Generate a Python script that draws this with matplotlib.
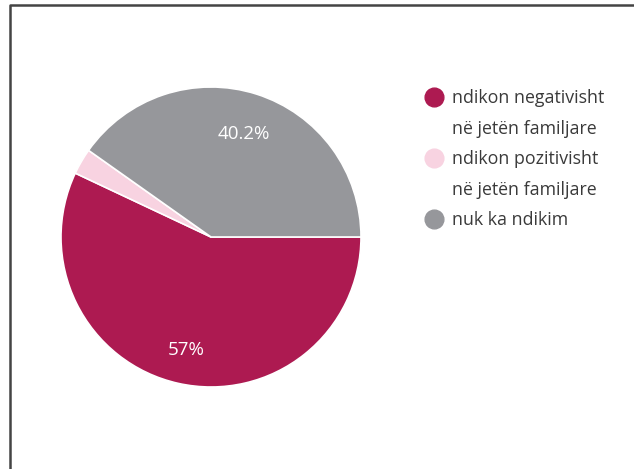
import matplotlib
matplotlib.use("Agg")
import matplotlib.pyplot as plt
from matplotlib.lines import Line2D
import numpy as np

categories = ["ndikon negativisht\nnë jetën familjare",
              "ndikon pozitivisht\nnë jetën familjare",
              "nuk ka ndikim"]
values = [57.0, 2.8, 40.2]
pct_labels = ["57%", "", "40.2%"]
colors = ["#AD1A51", "#F8D3E1", "#96979B"]

plt.rcParams['font.family'] = ['Open Sans', 'DejaVu Sans']

W, H = 634, 469
fig = plt.figure(figsize=(W/100, H/100), dpi=100)

cx, cy, r = 211, 237, 150
ax = fig.add_axes([(cx - r)/W, (H - cy - r)/H, 2*r/W, 2*r/H])
wedges, _ = ax.pie(values, colors=colors, startangle=0, counterclock=False,
                   wedgeprops=dict(edgecolor="white", linewidth=1.2))
ax.set_xlim(-1, 1)
ax.set_ylim(-1, 1)
ax.set_aspect('equal')
ax.axis('off')

dists = [0.77, 0.0, 0.72]
for w, lab, d in zip(wedges, pct_labels, dists):
    if not lab:
        continue
    ang = np.deg2rad((w.theta1 + w.theta2) / 2)
    ax.text(d*np.cos(ang), d*np.sin(ang), lab, ha='center', va='center',
            color='white', fontsize=13.5)

# legend
ys = [97, 158, 219]
for cat, col, y in zip(categories, colors, ys):
    fig.add_artist(Line2D([434/W], [1 - y/H], marker='o', markersize=13.5,
                          color=col, linestyle='none', transform=fig.transFigure))
    fig.text(452/W, 1 - (y - 8)/H, cat, ha='left', va='top', fontsize=12.8,
             color='#3a3a3a', linespacing=1.92)

# frame (top and left edges)
fig.add_artist(Line2D([10/W, 10/W, 1], [0, 1 - 5.5/H, 1 - 5.5/H],
                      color='#444444', linewidth=1.8, transform=fig.transFigure))

fig.savefig("out.png", dpi=100)
